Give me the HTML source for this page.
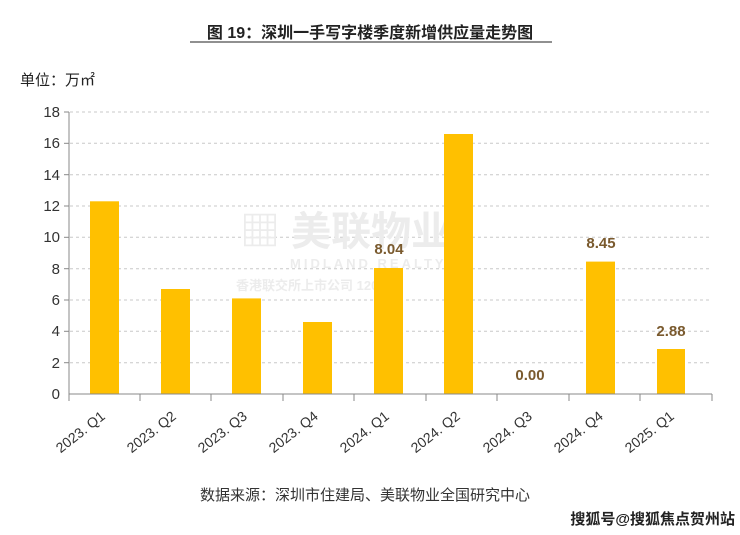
<!DOCTYPE html>
<html><head><meta charset="utf-8"><style>
body{margin:0;background:#fff;}
svg{display:block;font-family:"Liberation Sans","Noto Sans CJK SC",sans-serif;}
</style></head><body>
<svg width="740" height="535" viewBox="0 0 740 535">
<text x="370" y="38" text-anchor="middle" font-size="16" font-weight="bold" fill="#222">图 19：深圳一手写字楼季度新增供应量走势图</text>
<line x1="190" y1="42" x2="552" y2="42" stroke="#222" stroke-width="1"/>
<text x="20" y="85" font-size="15" fill="#222">单位：万㎡</text>
<g stroke="#c8c8c8" stroke-dasharray="3,3" stroke-width="1">
<line x1="70" y1="112" x2="712" y2="112"/><line x1="70" y1="143.3" x2="712" y2="143.3"/>
<line x1="70" y1="174.7" x2="712" y2="174.7"/><line x1="70" y1="206" x2="712" y2="206"/>
<line x1="70" y1="237.3" x2="712" y2="237.3"/><line x1="70" y1="268.7" x2="712" y2="268.7"/>
<line x1="70" y1="300" x2="712" y2="300"/><line x1="70" y1="331.3" x2="712" y2="331.3"/>
<line x1="70" y1="362.7" x2="712" y2="362.7"/>
</g>
<g font-size="15" fill="#333" text-anchor="end">
<text x="60" y="117">18</text><text x="60" y="148">16</text><text x="60" y="180">14</text>
<text x="60" y="211">12</text><text x="60" y="242">10</text><text x="60" y="274">8</text>
<text x="60" y="305">6</text><text x="60" y="336">4</text><text x="60" y="368">2</text><text x="60" y="399">0</text>
</g>
<g fill="#ececec" font-weight="bold">
<text x="240" y="245" font-size="40">▦ 美联物业</text>
<text x="290" y="268" font-size="13" letter-spacing="3">MIDLAND REALTY</text>
<text x="236" y="290" font-size="13">香港联交所上市公司 1200 号</text>
</g>
<g stroke="#888" stroke-width="1">
<line x1="69" y1="112" x2="69" y2="394"/>
<g><line x1="64" y1="112" x2="69" y2="112"/><line x1="64" y1="143.3" x2="69" y2="143.3"/><line x1="64" y1="174.7" x2="69" y2="174.7"/><line x1="64" y1="206" x2="69" y2="206"/><line x1="64" y1="237.3" x2="69" y2="237.3"/><line x1="64" y1="268.7" x2="69" y2="268.7"/><line x1="64" y1="300" x2="69" y2="300"/><line x1="64" y1="331.3" x2="69" y2="331.3"/><line x1="64" y1="362.7" x2="69" y2="362.7"/></g>
</g>
<g fill="#FFC000">
<rect x="90" y="201.3" width="29" height="192.7"/>
<rect x="161" y="289" width="29" height="105"/>
<rect x="232" y="298.4" width="29" height="95.6"/>
<rect x="303" y="322" width="29" height="72"/>
<rect x="374" y="268" width="29" height="126"/>
<rect x="444" y="134" width="29" height="260"/>
<rect x="586" y="261.6" width="29" height="132.4"/>
<rect x="657" y="349" width="28" height="45"/>
</g>
<g stroke="#888" stroke-width="1">
<line x1="69" y1="394" x2="712" y2="394"/>
<line x1="69" y1="394" x2="69" y2="401"/><line x1="140" y1="394" x2="140" y2="401"/><line x1="211" y1="394" x2="211" y2="401"/><line x1="283" y1="394" x2="283" y2="401"/><line x1="354" y1="394" x2="354" y2="401"/><line x1="426" y1="394" x2="426" y2="401"/><line x1="497" y1="394" x2="497" y2="401"/><line x1="569" y1="394" x2="569" y2="401"/><line x1="640" y1="394" x2="640" y2="401"/><line x1="712" y1="394" x2="712" y2="401"/>
</g>
<g font-size="15" font-weight="bold" fill="#7a5a2e" text-anchor="middle">
<text x="389" y="254">8.04</text>
<text x="530" y="380">0.00</text>
<text x="601" y="248">8.45</text>
<text x="671" y="336">2.88</text>
</g>
<g font-size="14" fill="#333" text-anchor="end">
<text transform="translate(106,418) rotate(-38)">2023. Q1</text>
<text transform="translate(177,418) rotate(-38)">2023. Q2</text>
<text transform="translate(248,418) rotate(-38)">2023. Q3</text>
<text transform="translate(319,418) rotate(-38)">2023. Q4</text>
<text transform="translate(390,418) rotate(-38)">2024. Q1</text>
<text transform="translate(461,418) rotate(-38)">2024. Q2</text>
<text transform="translate(533,418) rotate(-38)">2024. Q3</text>
<text transform="translate(604,418) rotate(-38)">2024. Q4</text>
<text transform="translate(675,418) rotate(-38)">2025. Q1</text>
</g>
<text x="200" y="500" font-size="15" fill="#333">数据来源：深圳市住建局、美联物业全国研究中心</text>
<text x="735" y="524" text-anchor="end" font-size="15" font-weight="bold" fill="#222">搜狐号@搜狐焦点贺州站</text>
</svg>
</body></html>
